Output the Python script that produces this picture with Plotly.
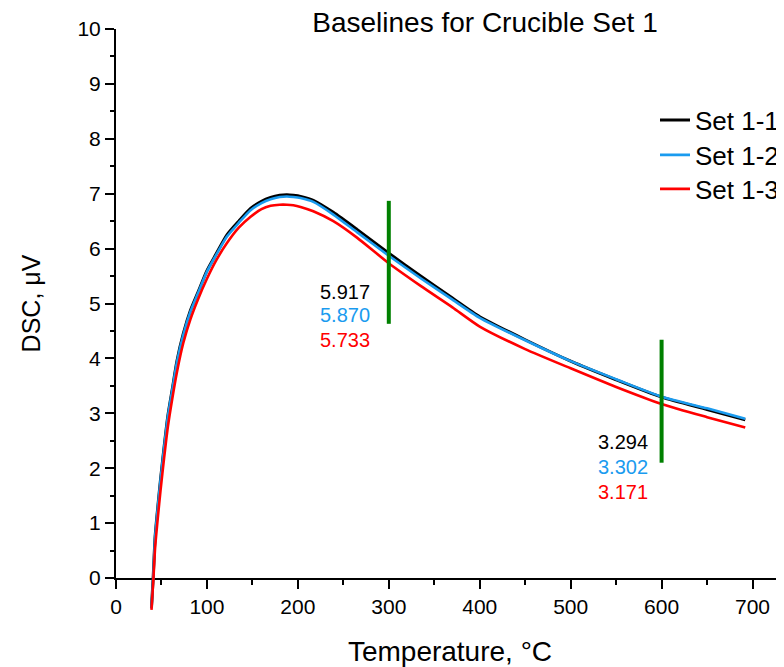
import plotly.graph_objects as go

# ---------------- data ----------------
temp = [39, 41, 43, 46, 49, 53, 57, 62, 67, 74, 82, 90, 100, 110, 122, 135, 148, 160,
        170, 180, 188, 195, 203, 217, 239, 265, 300, 335, 370, 400, 450, 500, 550,
        600, 650, 692]

set_1_1 = [-0.55, 0.05, 0.75, 1.30, 1.80, 2.40, 2.95, 3.45, 3.95, 4.45, 4.88, 5.20, 5.60,
           5.90, 6.25, 6.50, 6.73, 6.86, 6.93, 6.97, 6.98, 6.97, 6.95, 6.88, 6.66, 6.35,
           5.917, 5.50, 5.10, 4.76, 4.34, 3.95, 3.61, 3.294, 3.07, 2.88]

set_1_2 = [-0.55, 0.04, 0.74, 1.29, 1.79, 2.39, 2.94, 3.44, 3.93, 4.43, 4.86, 5.18, 5.58,
           5.88, 6.22, 6.47, 6.70, 6.83, 6.90, 6.94, 6.95, 6.94, 6.92, 6.85, 6.62, 6.30,
           5.870, 5.46, 5.07, 4.74, 4.33, 3.95, 3.62, 3.302, 3.09, 2.90]

set_1_3 = [-0.58, -0.05, 0.55, 1.10, 1.60, 2.20, 2.75, 3.28, 3.75, 4.28, 4.72, 5.07, 5.45,
           5.78, 6.10, 6.38, 6.58, 6.72, 6.78, 6.80, 6.80, 6.79, 6.76, 6.68, 6.50, 6.20,
           5.733, 5.32, 4.93, 4.58, 4.17, 3.82, 3.48, 3.171, 2.93, 2.74]

series_names = ["Set 1-1", "Set 1-2", "Set 1-3"]
series_values = [set_1_1, set_1_2, set_1_3]
series_colors = ["#000000", "#1A9BEF", "#FF0000"]
series_widths = [3, 2.6, 2.6]

marker_temps = [300, 600]
marker_span = [[4.63, 6.87], [2.10, 4.34]]
marker_labels = [["5.917", "5.870", "5.733"], ["3.294", "3.302", "3.171"]]
label_x = [222, 528]
label_y = [[5.21, 4.79, 4.34], [2.48, 2.02, 1.57]]

x_ticks = list(range(0, 800, 100))
y_ticks = list(range(0, 11))

# ---------------- layout geometry (page body has an 8 px margin) ----------------
OFF = 8
W, H = 784 - OFF, 667 - OFF
ML, MR, MT, MB = 116 - OFF, 0, 29 - OFF, 32
plot_w = W - ML - MR
plot_h = H - MT - MB
y0_px = 578 - OFF               # pixel row of y = 0
ext_px = 615 - OFF              # lowest pixel row that data may reach
px_per_unit = (y0_px - MT) / 10.0
d0 = (H - MB - y0_px) / plot_h
e0 = (H - MB - ext_px) / plot_h
y2_min = -(ext_px - y0_px) / px_per_unit
x_max = (784 - 115.5) / 0.91

legend_left_px = 655 - OFF
legend_rows_px = [120 - OFF, 155 - OFF, 189 - OFF]
legend_ids = ["legend", "legend2", "legend3"]

FONT = "Arial, Liberation Sans, sans-serif"

fig = go.Figure()

for name, vals, col, w, lg in zip(series_names, series_values, series_colors,
                                  series_widths, legend_ids):
    fig.add_trace(go.Scatter(x=temp, y=vals, name=name, mode="lines",
                             line=dict(color=col, width=w, shape="spline", smoothing=0.6),
                             yaxis="y2", legend=lg))

for t, span in zip(marker_temps, marker_span):
    fig.add_trace(go.Scatter(x=[t, t], y=span, mode="lines", showlegend=False,
                             line=dict(color="#008000", width=4), yaxis="y2",
                             hoverinfo="skip"))

for lx, ly, labs in zip(label_x, label_y, marker_labels):
    for yy, lab, col in zip(ly, labs, series_colors):
        fig.add_annotation(x=lx, y=yy, xref="x", yref="y", text=lab, showarrow=False,
                           xanchor="left", yanchor="middle",
                           font=dict(family=FONT, size=20, color=col))

axis_common = dict(showline=True, linecolor="black", linewidth=2, ticks="outside",
                   ticklen=9, tickwidth=2, tickcolor="black", showgrid=False,
                   zeroline=False, tickfont=dict(family=FONT, size=21, color="black"))

legend_layout = {}
for lg, row in zip(legend_ids, legend_rows_px):
    legend_layout[lg] = dict(x=(legend_left_px - ML) / plot_w, xanchor="left",
                             y=(H - MB - row) / plot_h, yanchor="middle",
                             font=dict(family=FONT, size=26, color="black"),
                             bgcolor="rgba(0,0,0,0)", borderwidth=0)

fig.update_layout(
    width=W, height=H,
    margin=dict(l=ML, r=MR, t=MT, b=MB, autoexpand=False),
    paper_bgcolor="white", plot_bgcolor="rgba(0,0,0,0)",
    title=dict(text="Baselines for Crucible Set 1", x=(485 - OFF) / W, xref="container",
               xanchor="center", y=1 - (22 - OFF) / H, yref="container", yanchor="middle",
               font=dict(family=FONT, size=28, color="black")),
    xaxis=dict(range=[0, x_max], tickvals=x_ticks, anchor="y",
               minor=dict(dtick=50, ticks="outside", ticklen=4.5, tickwidth=2,
                          tickcolor="black"),
               title=dict(text="Temperature, °C", standoff=25,
                          font=dict(family=FONT, size=28, color="black")),
               **axis_common),
    yaxis=dict(range=[0, 10], tickvals=y_ticks, domain=[d0, 1], anchor="x",
               minor=dict(dtick=0.5, ticks="outside", ticklen=4.5, tickwidth=2,
                          tickcolor="black"),
               title=dict(text="DSC, μV", standoff=30,
                          font=dict(family=FONT, size=25, color="black")),
               **axis_common),
    yaxis2=dict(range=[y2_min, 10], domain=[e0, 1], anchor="x", visible=False,
                showgrid=False, zeroline=False),
    showlegend=True,
    **legend_layout,
)

fig.write_html("out.html")
